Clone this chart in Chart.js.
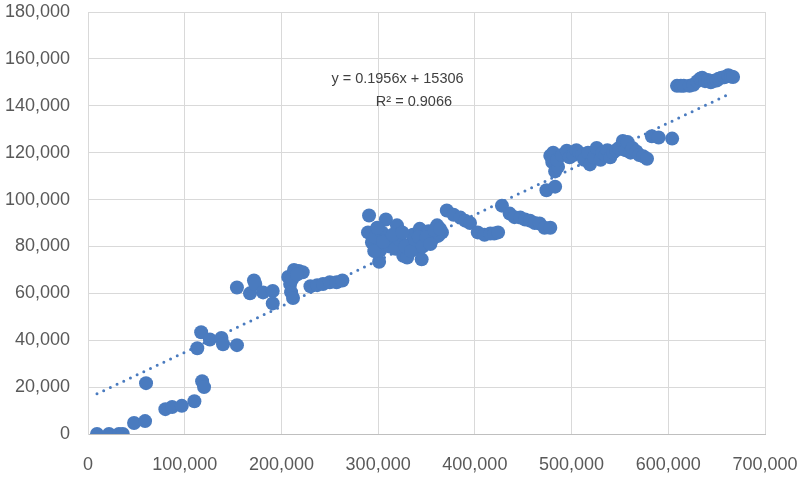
<!DOCTYPE html>
<html>
<head>
<meta charset="utf-8">
<script src="https://cdn.jsdelivr.net/npm/chart.js@4/dist/chart.umd.min.js"></script>
<style>
  html, body { margin: 0; padding: 0; background: #fff; }
  #wrap { width: 810px; height: 482px; }
</style>
</head>
<body>
<div id="wrap"><canvas id="myChart" width="810" height="482"></canvas></div>
<script>
// data (x, y)
const xValues = [
    9300, 21700, 32000, 36000, 47600, 59000, 60000, 80000, 87000, 97000,
    110000, 113000, 117000, 118000, 120000, 126000, 138000, 139600, 154000, 154000,
    167500, 171600, 173000, 181000, 191000, 191000, 207000, 209000, 210000, 212000,
    213000, 218000, 222000, 211000, 216000, 230000, 237000, 243000, 250000, 257000, 263000,
    290600, 289500, 293600, 297000, 301000, 302000, 304000, 308000, 312000, 318000,
    319500, 322000, 326000, 330000, 333000, 336000, 340000, 343000, 345000, 348000,
    352000, 356000, 361000, 362000, 366000,
    299000, 296000, 305000, 315000, 325000, 328000, 334000, 338000, 342000, 346000,
    350000, 354000, 358000, 364000,
    371000, 378000, 385000, 390000, 395000,
    403000, 410000, 416000, 420000, 424000, 428000, 436000, 441000, 447000, 452000, 457000,
    462000, 467000, 472000, 478000, 474000, 478000, 480000, 483000, 483000, 486000,
    481000, 485000,
    490000, 495000, 498000, 502000, 505000, 508000, 511000, 513000, 517000, 519000,
    523000, 526000, 530000, 532000, 535000, 537000, 540000, 543000,
    546000, 549000, 553000, 556000, 558000, 561000, 563000, 567000, 570000, 574000,
    578000, 583000, 590000, 604000,
    609000, 613000, 616000, 622000, 626000, 630000, 633000, 635000, 638000, 641000,
    644000, 647000, 650000, 652000, 655000, 658000, 662000, 665000, 667000
];
const yValues = [
    0, 0, 0, 0, 4700, 5500, 21700, 10600, 11500, 12000,
    14000, 36600, 43400, 22500, 20000, 40300, 41000, 38300, 37900, 62500,
    60000, 65500, 64000, 60400, 61000, 55700, 67000, 64000, 60500, 58000,
    70000, 69500, 69000, 66000, 68000, 63000, 63500, 64000, 64700, 64700, 65500,
    93200, 86000, 81700, 84000, 73500, 78300, 86000, 91500, 80000, 79000,
    89000, 83000, 76000, 75300, 81000, 85000, 79000, 87500, 74500, 82000,
    86500, 83000, 89000, 84500, 86000,
    88000, 78000, 82000, 85000, 86000, 80000, 78000, 83000, 84000, 80000,
    84000, 81000, 87000, 87500,
    95300, 93500, 92300, 91000, 90000,
    86000, 85000, 85500, 85500, 86000, 97400, 94000, 92500, 92300, 91500, 91000,
    90000, 89800, 88000, 88000, 104000, 118700, 116000, 112000, 105500, 114000,
    120000, 117000,
    119000, 120800, 118000, 119000, 121000, 120000, 119000, 117000, 120000, 115000,
    118000, 122000, 117000, 120000, 119000, 121000, 118000, 120000,
    121000, 122000, 125000, 121000, 124500, 120000, 122000, 120500, 119000, 118500,
    117400, 127000, 126500, 126000,
    148500, 148500, 148500, 148500, 149000, 150500, 151500, 152000, 150500, 151000,
    150000, 150700, 150800, 151500, 152000, 152200, 153000, 152500, 152300
];

// linear trendline as shown on the chart
const trendSlope = 0.1956;
const trendIntercept = 15306;
const trendRange = [9300, 660000];
const trendLabels = ['y = 0.1956x + 15306', 'R\u00B2 = 0.9066'];

const blue = '#4a7bbf';
const tickColor = '#595959';
const fontFamily = '"Liberation Sans", Arial, sans-serif';

const points = xValues.map((x, i) => ({ x: x, y: yValues[i] }));
const trendPoints = trendRange.map(x => ({ x: x, y: trendSlope * x + trendIntercept }));

const equationPlugin = {
    id: 'equation',
    afterDatasetsDraw(chart) {
        const ctx = chart.ctx;
        const xs = chart.scales.x;
        const ys = chart.scales.y;
        ctx.save();
        ctx.fillStyle = '#404040';
        ctx.font = '14.5px ' + fontFamily;
        ctx.textAlign = 'center';
        ctx.textBaseline = 'middle';
        ctx.fillText(trendLabels[0], xs.getPixelForValue(320000), ys.getPixelForValue(151500));
        ctx.fillText(trendLabels[1], xs.getPixelForValue(337000), ys.getPixelForValue(141700));
        ctx.restore();
    }
};

const ctx = document.getElementById('myChart').getContext('2d');
const myChart = new Chart(ctx, {
    type: 'scatter',
    data: {
        datasets: [{
            label: 'data',
            data: points,
            backgroundColor: blue,
            borderColor: blue,
            pointRadius: 7,
            pointHoverRadius: 7,
            borderWidth: 0,
            order: 1
        }, {
            type: 'line',
            label: 'trend',
            data: trendPoints,
            borderColor: blue,
            borderWidth: 3,
            borderDash: [0, 7.4],
            borderCapStyle: 'round',
            pointRadius: 0,
            fill: false,
            order: 2
        }]
    },
    options: {
        responsive: false,
        animation: false,
        events: [],
        layout: { padding: { top: 0, right: 45, left: 0, bottom: 0 } },
        plugins: {
            legend: { display: false },
            tooltip: { enabled: false }
        },
        scales: {
            x: {
                type: 'linear',
                min: 0,
                max: 700000,
                afterFit(scale) {
                    scale.height = 48;
                    scale.paddingLeft = 0;
                    scale.paddingRight = 0;
                },
                border: { color: '#bfbfbf', width: 1 },
                grid: { color: '#d9d9d9', drawTicks: false },
                ticks: {
                    stepSize: 100000,
                    padding: 20,
                    color: tickColor,
                    font: { family: fontFamily, size: 18 },
                    maxRotation: 0,
                    callback: v => v.toLocaleString('en-US')
                }
            },
            y: {
                min: 0,
                max: 180000,
                afterFit(scale) { scale.width = 88; scale.paddingTop = 12; },
                border: { color: '#d9d9d9', width: 1 },
                grid: { color: '#d9d9d9', drawTicks: false },
                ticks: {
                    stepSize: 20000,
                    padding: 18,
                    color: tickColor,
                    font: { family: fontFamily, size: 18 },
                    callback: v => v.toLocaleString('en-US')
                }
            }
        }
    },
    plugins: [equationPlugin]
});
</script>
</body>
</html>
